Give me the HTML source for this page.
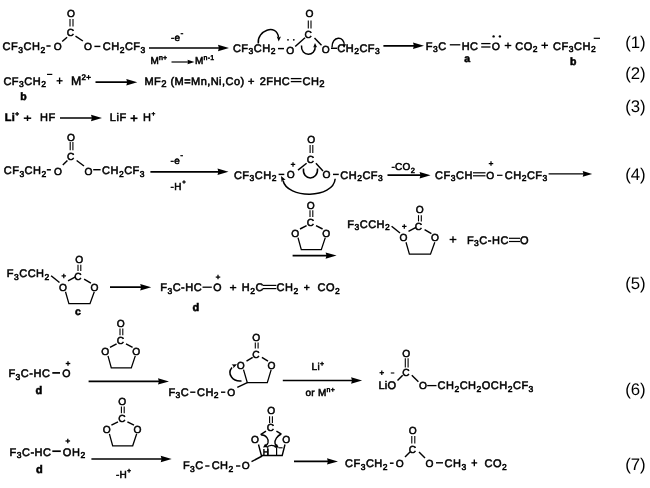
<!DOCTYPE html>
<html><head><meta charset="utf-8"><style>
html,body{margin:0;padding:0;background:#fff;width:650px;height:488px;overflow:hidden}
svg{display:block;filter:grayscale(1) blur(0.35px)}
text{font-family:"Liberation Sans", sans-serif;text-rendering:geometricPrecision;fill:#000;stroke:#000;stroke-width:0.55px}
line,path{stroke:#000;stroke-linecap:butt;fill:none}
polygon,circle{fill:#000;stroke:none}
</style></head><body>
<svg width="650" height="488" viewBox="0 0 650 488">
<text x="2.60" y="50.2" font-size="11.0" letter-spacing="0.5"><tspan>CF</tspan><tspan dy="2.64" font-size="8.5">3</tspan><tspan dy="-2.64">CH</tspan><tspan dy="2.64" font-size="8.5">2</tspan></text>
<line x1="46.40" y1="46.00" x2="50.60" y2="46.00" stroke-width="1.5"/>
<text x="53.74" y="50.0" font-size="10.2" letter-spacing="0.5"><tspan>O</tspan></text>
<line x1="62.20" y1="41.50" x2="67.10" y2="37.20" stroke-width="1.45"/>
<text x="66.64" y="36.3" font-size="10.2" letter-spacing="0.5"><tspan>C</tspan></text>
<line x1="70.00" y1="19.00" x2="70.00" y2="26.50" stroke-width="1.1"/>
<line x1="73.00" y1="19.00" x2="73.00" y2="26.50" stroke-width="1.1"/>
<text x="66.94" y="16.9" font-size="10.2" letter-spacing="0.5"><tspan>O</tspan></text>
<line x1="75.50" y1="36.10" x2="82.90" y2="41.00" stroke-width="1.45"/>
<text x="83.94" y="50.0" font-size="10.2" letter-spacing="0.5"><tspan>O</tspan></text>
<line x1="94.40" y1="46.40" x2="100.40" y2="46.40" stroke-width="1.45"/>
<text x="102.80" y="50.4" font-size="11.0" letter-spacing="0.5"><tspan>CH</tspan><tspan dy="2.64" font-size="8.5">2</tspan><tspan dy="-2.64">CF</tspan><tspan dy="2.64" font-size="8.5">3</tspan></text>
<line x1="149.00" y1="48.00" x2="221.30" y2="48.00" stroke-width="1.7"/>
<polygon points="229.00,48.00 218.00,51.20 218.88,48.00 218.00,44.80"/>
<text x="170.90" y="41.2" font-size="10" letter-spacing="0.4"><tspan>-e</tspan><tspan dy="-5.20" font-size="8.5">-</tspan></text>
<text x="150.45" y="64.0" font-size="10" letter-spacing="0.2"><tspan>M</tspan><tspan dy="-4.00" font-size="7">n+</tspan></text>
<line x1="171.50" y1="62.00" x2="189.60" y2="62.00" stroke-width="1.2"/>
<polygon points="194.50,62.00 187.50,64.30 188.06,62.00 187.50,59.70"/>
<text x="195.05" y="64.0" font-size="10" letter-spacing="0.2"><tspan>M</tspan><tspan dy="-4.00" font-size="7">n-1</tspan></text>
<text x="232.91" y="51.5" font-size="11.0" letter-spacing="0.5"><tspan>CF</tspan><tspan dy="2.64" font-size="8.5">3</tspan><tspan dy="-2.64">CH</tspan><tspan dy="2.64" font-size="8.5">2</tspan></text>
<line x1="278.00" y1="48.60" x2="284.00" y2="48.60" stroke-width="1.45"/>
<text x="286.24" y="54.0" font-size="10.2" letter-spacing="0.5"><tspan>O</tspan></text>
<circle cx="288.0" cy="39.8" r="0.9"/>
<circle cx="293.8" cy="39.8" r="0.9"/>
<line x1="295.20" y1="46.50" x2="305.00" y2="37.80" stroke-width="1.45"/>
<text x="304.44" y="37.7" font-size="10.2" letter-spacing="0.5"><tspan>C</tspan></text>
<line x1="308.30" y1="20.50" x2="308.30" y2="28.50" stroke-width="1.1"/>
<line x1="311.00" y1="20.50" x2="311.00" y2="28.50" stroke-width="1.1"/>
<text x="305.44" y="17.0" font-size="10.2" letter-spacing="0.5"><tspan>O</tspan></text>
<line x1="314.50" y1="38.00" x2="321.50" y2="45.30" stroke-width="1.45"/>
<text x="321.84" y="53.1" font-size="10.2" letter-spacing="0.5"><tspan>O</tspan></text>
<line x1="331.00" y1="48.30" x2="337.00" y2="48.30" stroke-width="1.45"/>
<text x="337.31" y="51.5" font-size="11.0" letter-spacing="0.5"><tspan>CH</tspan><tspan dy="2.64" font-size="8.5">2</tspan><tspan dy="-2.64">CF</tspan><tspan dy="2.64" font-size="8.5">3</tspan></text>
<path d="M258.3,43.5 C256.5,31 276.5,22.5 278.6,37.5" stroke-width="1.5" fill="none"/>
<polygon points="278.70,41.50 276.78,36.43 278.84,37.50 280.97,36.58"/>
<path d="M301.5,45.5 C300.5,57 316,57 315.2,46" stroke-width="1.5" fill="none"/>
<polygon points="315.00,43.00 317.16,47.43 315.13,46.60 313.16,47.57"/>
<path d="M332.0,47.5 C331.5,35.5 345,35.5 344.2,45.5" stroke-width="1.4" fill="none"/>
<polygon points="344.00,48.00 342.47,43.65 344.29,44.65 346.26,43.98"/>
<line x1="383.40" y1="45.80" x2="416.30" y2="45.80" stroke-width="1.7"/>
<polygon points="424.00,45.80 413.00,49.00 413.88,45.80 413.00,42.60"/>
<text x="425.68" y="49.8" font-size="11.0" letter-spacing="0.5"><tspan>F</tspan><tspan dy="2.64" font-size="8.5">3</tspan><tspan dy="-2.64">C</tspan></text>
<line x1="449.80" y1="44.80" x2="460.30" y2="44.80" stroke-width="1.3"/>
<text x="461.68" y="49.8" font-size="11.0" letter-spacing="0.5"><tspan>HC</tspan></text>
<line x1="481.20" y1="43.60" x2="490.50" y2="43.60" stroke-width="1.3"/>
<line x1="481.20" y1="47.00" x2="490.50" y2="47.00" stroke-width="1.3"/>
<text x="491.83" y="50.2" font-size="10.5" letter-spacing="0.5"><tspan>O</tspan></text>
<circle cx="493.6" cy="36.4" r="1.2"/>
<circle cx="499.9" cy="36.4" r="1.2"/>
<line x1="504.70" y1="45.50" x2="511.30" y2="45.50" stroke-width="1.35"/>
<line x1="508.00" y1="42.50" x2="508.00" y2="48.50" stroke-width="1.35"/>
<text x="515.21" y="49.8" font-size="11.0" letter-spacing="0.5"><tspan>CO</tspan><tspan dy="2.64" font-size="8.5">2</tspan></text>
<line x1="541.40" y1="45.30" x2="548.00" y2="45.30" stroke-width="1.35"/>
<line x1="544.70" y1="42.20" x2="544.70" y2="48.40" stroke-width="1.35"/>
<text x="553.11" y="49.8" font-size="11.0" letter-spacing="0.5"><tspan>CF</tspan><tspan dy="2.64" font-size="8.5">3</tspan><tspan dy="-2.64">CH</tspan><tspan dy="2.64" font-size="8.5">2</tspan></text>
<line x1="593.70" y1="38.30" x2="600.00" y2="38.30" stroke-width="1.2"/>
<text x="464.18" y="62.2" font-size="10.5" font-weight="bold"><tspan>a</tspan></text>
<text x="569.92" y="64.5" font-size="10.5" font-weight="bold"><tspan>b</tspan></text>
<text x="625.18" y="47.5" font-size="16.8" style="stroke-width:0px"><tspan>(1)</tspan></text>
<text x="3.40" y="84.5" font-size="11.0" letter-spacing="0.5"><tspan>CF</tspan><tspan dy="2.64" font-size="8.5">3</tspan><tspan dy="-2.64">CH</tspan><tspan dy="2.64" font-size="8.5">2</tspan></text>
<line x1="47.00" y1="74.40" x2="52.30" y2="74.40" stroke-width="1.2"/>
<line x1="56.60" y1="80.80" x2="62.60" y2="80.80" stroke-width="1.35"/>
<line x1="59.60" y1="77.55" x2="59.60" y2="84.05" stroke-width="1.35"/>
<text x="70.98" y="85.4" font-size="12.3" letter-spacing="0.3"><tspan>M</tspan><tspan dy="-5.60" font-size="8">2+</tspan></text>
<line x1="95.50" y1="82.20" x2="129.60" y2="82.20" stroke-width="1.7"/>
<polygon points="137.30,82.20 126.30,85.40 127.18,82.20 126.30,79.00"/>
<text x="144.38" y="85.0" font-size="11.0" letter-spacing="0.45"><tspan>MF</tspan><tspan dy="2.20" font-size="9.5">2</tspan><tspan dy="-2.20"> (M=Mn,Ni,Co) +</tspan></text>
<text x="259.67" y="85.0" font-size="11.0" letter-spacing="0.45"><tspan>2FHC</tspan></text>
<line x1="290.80" y1="78.60" x2="301.50" y2="78.60" stroke-width="1.3"/>
<line x1="290.80" y1="81.60" x2="301.50" y2="81.60" stroke-width="1.3"/>
<text x="302.50" y="85.0" font-size="11.0" letter-spacing="0.45"><tspan>CH</tspan><tspan dy="2.20" font-size="9.5">2</tspan></text>
<text x="20.32" y="99.5" font-size="10.5" font-weight="bold"><tspan>b</tspan></text>
<text x="625.18" y="79.3" font-size="16.8" style="stroke-width:0px"><tspan>(2)</tspan></text>
<text x="4.67" y="120.8" font-size="11.0" font-weight="bold" letter-spacing="0.4"><tspan>Li</tspan><tspan dy="-5.00" font-size="6.5">+</tspan></text>
<line x1="23.80" y1="118.20" x2="31.20" y2="118.20" stroke-width="1.5"/>
<line x1="27.50" y1="115.40" x2="27.50" y2="121.00" stroke-width="1.5"/>
<text x="39.88" y="120.8" font-size="11.0" letter-spacing="0.6"><tspan>HF</tspan></text>
<line x1="60.00" y1="118.00" x2="94.30" y2="118.00" stroke-width="1.7"/>
<polygon points="102.00,118.00 91.00,121.20 91.88,118.00 91.00,114.80"/>
<text x="109.77" y="121.2" font-size="11.0" letter-spacing="0.6"><tspan>LiF</tspan></text>
<line x1="130.50" y1="118.30" x2="137.50" y2="118.30" stroke-width="1.6"/>
<line x1="134.00" y1="115.00" x2="134.00" y2="121.60" stroke-width="1.6"/>
<text x="143.08" y="121.2" font-size="11.0" letter-spacing="0.5"><tspan>H</tspan><tspan dy="-5.60" font-size="6.5">+</tspan></text>
<text x="625.18" y="111.7" font-size="16.8" style="stroke-width:0px"><tspan>(3)</tspan></text>
<text x="3.71" y="174.1" font-size="11.0" letter-spacing="0.5"><tspan>CF</tspan><tspan dy="2.64" font-size="8.5">3</tspan><tspan dy="-2.64">CH</tspan><tspan dy="2.64" font-size="8.5">2</tspan></text>
<line x1="46.80" y1="169.80" x2="50.90" y2="169.80" stroke-width="1.5"/>
<text x="54.04" y="174.5" font-size="10.2" letter-spacing="0.5"><tspan>O</tspan></text>
<line x1="62.80" y1="165.00" x2="67.40" y2="160.50" stroke-width="1.45"/>
<text x="66.94" y="160.2" font-size="10.2" letter-spacing="0.5"><tspan>C</tspan></text>
<line x1="70.20" y1="142.00" x2="70.20" y2="150.30" stroke-width="1.1"/>
<line x1="72.90" y1="142.00" x2="72.90" y2="150.30" stroke-width="1.1"/>
<text x="66.94" y="140.7" font-size="10.2" letter-spacing="0.5"><tspan>O</tspan></text>
<line x1="76.60" y1="160.50" x2="84.00" y2="166.00" stroke-width="1.45"/>
<text x="84.54" y="174.5" font-size="10.2" letter-spacing="0.5"><tspan>O</tspan></text>
<line x1="93.20" y1="169.70" x2="100.60" y2="169.70" stroke-width="1.45"/>
<text x="102.00" y="174.4" font-size="11.0" letter-spacing="0.5"><tspan>CH</tspan><tspan dy="2.64" font-size="8.5">2</tspan><tspan dy="-2.64">CF</tspan><tspan dy="2.64" font-size="8.5">3</tspan></text>
<line x1="150.40" y1="171.80" x2="220.80" y2="171.80" stroke-width="1.7"/>
<polygon points="228.50,171.80 217.50,175.00 218.38,171.80 217.50,168.60"/>
<text x="170.40" y="164.4" font-size="10" letter-spacing="0.5"><tspan>-e</tspan><tspan dy="-6.00" font-size="8.5">-</tspan></text>
<text x="170.40" y="190.2" font-size="10" letter-spacing="0.6"><tspan>-H</tspan><tspan dy="-6.50" font-size="6">+</tspan></text>
<text x="233.91" y="178.5" font-size="11.0" letter-spacing="0.5"><tspan>CF</tspan><tspan dy="2.64" font-size="8.5">3</tspan><tspan dy="-2.64">CH</tspan><tspan dy="2.64" font-size="8.5">2</tspan></text>
<line x1="278.60" y1="174.40" x2="284.30" y2="174.40" stroke-width="1.45"/>
<text x="286.74" y="178.4" font-size="10.2" letter-spacing="0.5"><tspan>O</tspan></text>
<line x1="290.75" y1="164.40" x2="295.25" y2="164.40" stroke-width="1.25"/>
<line x1="293.00" y1="162.15" x2="293.00" y2="166.65" stroke-width="1.25"/>
<line x1="298.00" y1="170.10" x2="306.60" y2="163.30" stroke-width="1.45"/>
<text x="306.84" y="163.4" font-size="10.2" letter-spacing="0.5"><tspan>C</tspan></text>
<line x1="310.10" y1="145.00" x2="310.10" y2="153.00" stroke-width="1.1"/>
<line x1="312.80" y1="145.00" x2="312.80" y2="153.00" stroke-width="1.1"/>
<text x="307.14" y="143.3" font-size="10.2" letter-spacing="0.5"><tspan>O</tspan></text>
<line x1="315.90" y1="163.30" x2="323.00" y2="170.90" stroke-width="1.45"/>
<text x="322.54" y="178.4" font-size="10.2" letter-spacing="0.5"><tspan>O</tspan></text>
<line x1="333.00" y1="174.40" x2="338.80" y2="174.40" stroke-width="1.45"/>
<text x="340.31" y="178.5" font-size="11.0" letter-spacing="0.5"><tspan>CH</tspan><tspan dy="2.64" font-size="8.5">2</tspan><tspan dy="-2.64">CF</tspan><tspan dy="2.64" font-size="8.5">3</tspan></text>
<path d="M303.5,168.5 C302,181 318.5,181 317.5,168.5" stroke-width="1.5" fill="none"/>
<path d="M335.2,178.8 C333.5,199 287,199 283,180.5" stroke-width="1.5" fill="none"/>
<polygon points="281.00,176.00 285.61,179.78 283.07,179.88 281.55,181.94"/>
<line x1="387.50" y1="175.20" x2="422.90" y2="175.20" stroke-width="1.7"/>
<polygon points="430.60,175.20 419.60,178.40 420.48,175.20 419.60,172.00"/>
<text x="391.40" y="170.2" font-size="10" letter-spacing="0.3"><tspan>-CO</tspan><tspan dy="2.40" font-size="7.5">2</tspan></text>
<text x="435.11" y="178.8" font-size="11.0" letter-spacing="0.5"><tspan>CF</tspan><tspan dy="2.64" font-size="8.5">3</tspan><tspan dy="-2.64">CH</tspan></text>
<line x1="473.00" y1="172.80" x2="485.50" y2="172.80" stroke-width="1.2"/>
<line x1="473.00" y1="175.80" x2="485.50" y2="175.80" stroke-width="1.2"/>
<text x="486.14" y="178.8" font-size="10.2" letter-spacing="0.5"><tspan>O</tspan></text>
<line x1="488.75" y1="163.60" x2="493.25" y2="163.60" stroke-width="1.25"/>
<line x1="491.00" y1="161.35" x2="491.00" y2="165.85" stroke-width="1.25"/>
<line x1="497.00" y1="175.30" x2="502.50" y2="175.30" stroke-width="1.2"/>
<text x="504.81" y="178.7" font-size="11.0" letter-spacing="0.5"><tspan>CH</tspan><tspan dy="2.64" font-size="8.5">2</tspan><tspan dy="-2.64">CF</tspan><tspan dy="2.64" font-size="8.5">3</tspan></text>
<line x1="548.60" y1="173.90" x2="585.55" y2="173.90" stroke-width="1.3"/>
<polygon points="592.20,173.90 582.70,176.70 583.46,173.90 582.70,171.10"/>
<text x="625.18" y="179.5" font-size="16.8" style="stroke-width:0px"><tspan>(4)</tspan></text>
<text x="306.84" y="208.8" font-size="10.2" letter-spacing="0.5"><tspan>O</tspan></text>
<line x1="310.00" y1="210.30" x2="310.00" y2="217.00" stroke-width="1.1"/>
<line x1="312.80" y1="210.30" x2="312.80" y2="217.00" stroke-width="1.1"/>
<text x="306.84" y="226.0" font-size="10.2" letter-spacing="0.5"><tspan>C</tspan></text>
<line x1="306.60" y1="225.60" x2="300.00" y2="229.00" stroke-width="1.45"/>
<line x1="316.00" y1="225.60" x2="322.60" y2="229.00" stroke-width="1.45"/>
<text x="291.24" y="236.7" font-size="10.2" letter-spacing="0.5"><tspan>O</tspan></text>
<text x="322.14" y="236.7" font-size="10.2" letter-spacing="0.5"><tspan>O</tspan></text>
<path d="M298.0,237.6 L301.3,249.6 L321.3,249.6 L325.3,237.6" stroke-width="1.3" fill="none"/>
<line x1="292.60" y1="255.60" x2="328.90" y2="255.60" stroke-width="1.7"/>
<polygon points="336.60,255.60 325.60,258.80 326.48,255.60 325.60,252.40"/>
<text x="347.28" y="227.6" font-size="11.0" letter-spacing="0.5"><tspan>F</tspan><tspan dy="2.64" font-size="8.5">3</tspan><tspan dy="-2.64">CCH</tspan><tspan dy="2.64" font-size="8.5">2</tspan></text>
<line x1="391.60" y1="226.20" x2="400.00" y2="233.00" stroke-width="1.45"/>
<text x="399.54" y="241.2" font-size="10.2" letter-spacing="0.5"><tspan>O</tspan></text>
<line x1="402.05" y1="226.40" x2="406.55" y2="226.40" stroke-width="1.25"/>
<line x1="404.30" y1="224.15" x2="404.30" y2="228.65" stroke-width="1.25"/>
<line x1="408.50" y1="231.30" x2="416.00" y2="227.30" stroke-width="1.45"/>
<text x="414.84" y="230.2" font-size="10.2" letter-spacing="0.5"><tspan>C</tspan></text>
<line x1="418.50" y1="215.20" x2="418.50" y2="221.40" stroke-width="1.1"/>
<line x1="421.30" y1="215.20" x2="421.30" y2="221.40" stroke-width="1.1"/>
<text x="415.74" y="213.2" font-size="10.2" letter-spacing="0.5"><tspan>O</tspan></text>
<line x1="424.60" y1="229.60" x2="431.40" y2="233.60" stroke-width="1.45"/>
<text x="430.94" y="241.2" font-size="10.2" letter-spacing="0.5"><tspan>O</tspan></text>
<path d="M406.0,242.3 L409.4,254.2 L430.5,254.2 L434.8,242.3" stroke-width="1.3" fill="none"/>
<line x1="449.60" y1="239.50" x2="456.40" y2="239.50" stroke-width="1.35"/>
<line x1="453.00" y1="236.30" x2="453.00" y2="242.70" stroke-width="1.35"/>
<text x="466.88" y="243.7" font-size="11.0" letter-spacing="0.5"><tspan>F</tspan><tspan dy="2.64" font-size="8.5">3</tspan><tspan dy="-2.64">C-HC</tspan></text>
<line x1="509.00" y1="238.30" x2="520.00" y2="238.30" stroke-width="1.2"/>
<line x1="509.00" y1="241.50" x2="520.00" y2="241.50" stroke-width="1.2"/>
<text x="520.00" y="243.7" font-size="11.0" letter-spacing="0.5"><tspan>O</tspan></text>
<text x="6.78" y="277.1" font-size="11.0" letter-spacing="0.5"><tspan>F</tspan><tspan dy="2.64" font-size="8.5">3</tspan><tspan dy="-2.64">CCH</tspan><tspan dy="2.64" font-size="8.5">2</tspan></text>
<line x1="51.10" y1="275.70" x2="59.50" y2="282.50" stroke-width="1.45"/>
<text x="59.04" y="290.7" font-size="10.2" letter-spacing="0.5"><tspan>O</tspan></text>
<line x1="61.55" y1="275.90" x2="66.05" y2="275.90" stroke-width="1.25"/>
<line x1="63.80" y1="273.65" x2="63.80" y2="278.15" stroke-width="1.25"/>
<line x1="68.00" y1="280.80" x2="75.50" y2="276.80" stroke-width="1.45"/>
<text x="74.34" y="279.7" font-size="10.2" letter-spacing="0.5"><tspan>C</tspan></text>
<line x1="78.00" y1="264.70" x2="78.00" y2="270.90" stroke-width="1.1"/>
<line x1="80.80" y1="264.70" x2="80.80" y2="270.90" stroke-width="1.1"/>
<text x="75.24" y="262.7" font-size="10.2" letter-spacing="0.5"><tspan>O</tspan></text>
<line x1="84.10" y1="279.10" x2="90.90" y2="283.10" stroke-width="1.45"/>
<text x="90.44" y="290.7" font-size="10.2" letter-spacing="0.5"><tspan>O</tspan></text>
<path d="M65.5,291.8 L68.9,303.7 L90.0,303.7 L94.3,291.8" stroke-width="1.3" fill="none"/>
<text x="74.88" y="315.0" font-size="10.5" font-weight="bold"><tspan>c</tspan></text>
<line x1="110.00" y1="287.20" x2="143.50" y2="287.20" stroke-width="1.7"/>
<polygon points="151.20,287.20 140.20,290.40 141.08,287.20 140.20,284.00"/>
<text x="160.18" y="290.9" font-size="11.0" letter-spacing="0.5"><tspan>F</tspan><tspan dy="2.64" font-size="8.5">3</tspan><tspan dy="-2.64">C-HC</tspan></text>
<line x1="202.50" y1="287.20" x2="211.80" y2="287.20" stroke-width="1.3"/>
<text x="213.32" y="291.0" font-size="10.6" letter-spacing="0.5"><tspan>O</tspan></text>
<line x1="215.75" y1="277.10" x2="220.25" y2="277.10" stroke-width="1.25"/>
<line x1="218.00" y1="274.85" x2="218.00" y2="279.35" stroke-width="1.25"/>
<line x1="229.90" y1="287.60" x2="236.30" y2="287.60" stroke-width="1.35"/>
<line x1="233.10" y1="284.80" x2="233.10" y2="290.40" stroke-width="1.35"/>
<text x="241.78" y="291.2" font-size="11.0" letter-spacing="0.5"><tspan>H</tspan><tspan dy="2.64" font-size="8.5">2</tspan><tspan dy="-2.64">C</tspan></text>
<line x1="263.00" y1="285.40" x2="276.40" y2="285.40" stroke-width="1.2"/>
<line x1="263.00" y1="288.60" x2="276.40" y2="288.60" stroke-width="1.2"/>
<text x="276.50" y="291.2" font-size="11.0" letter-spacing="0.5"><tspan>CH</tspan><tspan dy="2.64" font-size="8.5">2</tspan></text>
<line x1="304.00" y1="287.50" x2="309.60" y2="287.50" stroke-width="1.35"/>
<line x1="306.80" y1="284.70" x2="306.80" y2="290.30" stroke-width="1.35"/>
<text x="317.50" y="291.2" font-size="11.0" letter-spacing="0.5"><tspan>CO</tspan><tspan dy="2.64" font-size="8.5">2</tspan></text>
<text x="192.62" y="310.5" font-size="11" font-weight="bold"><tspan>d</tspan></text>
<text x="625.18" y="289.3" font-size="16.8" style="stroke-width:0px"><tspan>(5)</tspan></text>
<text x="8.38" y="377.0" font-size="11.0" letter-spacing="0.5"><tspan>F</tspan><tspan dy="2.64" font-size="8.5">3</tspan><tspan dy="-2.64">C-HC</tspan></text>
<line x1="52.30" y1="372.90" x2="60.00" y2="372.90" stroke-width="1.7"/>
<text x="62.32" y="377.4" font-size="10.6" letter-spacing="0.5"><tspan>O</tspan></text>
<line x1="65.70" y1="363.50" x2="70.30" y2="363.50" stroke-width="1.3"/>
<line x1="68.00" y1="361.20" x2="68.00" y2="365.80" stroke-width="1.3"/>
<text x="35.62" y="394.2" font-size="11" font-weight="bold"><tspan>d</tspan></text>
<text x="116.84" y="327.1" font-size="10.2" letter-spacing="0.5"><tspan>O</tspan></text>
<line x1="120.00" y1="328.60" x2="120.00" y2="335.30" stroke-width="1.1"/>
<line x1="122.80" y1="328.60" x2="122.80" y2="335.30" stroke-width="1.1"/>
<text x="116.84" y="344.3" font-size="10.2" letter-spacing="0.5"><tspan>C</tspan></text>
<line x1="116.60" y1="343.90" x2="110.00" y2="347.30" stroke-width="1.45"/>
<line x1="126.00" y1="343.90" x2="132.60" y2="347.30" stroke-width="1.45"/>
<text x="101.24" y="355.0" font-size="10.2" letter-spacing="0.5"><tspan>O</tspan></text>
<text x="132.14" y="355.0" font-size="10.2" letter-spacing="0.5"><tspan>O</tspan></text>
<path d="M108.0,355.9 L111.3,367.9 L131.3,367.9 L135.3,355.9" stroke-width="1.3" fill="none"/>
<line x1="88.60" y1="381.40" x2="161.30" y2="381.40" stroke-width="1.7"/>
<polygon points="169.00,381.40 158.00,384.60 158.88,381.40 158.00,378.20"/>
<text x="168.48" y="395.7" font-size="11.0" letter-spacing="0.4"><tspan>F</tspan><tspan dy="2.64" font-size="8.5">3</tspan><tspan dy="-2.64">C</tspan></text>
<line x1="190.20" y1="392.20" x2="195.40" y2="392.20" stroke-width="1.4"/>
<text x="197.10" y="395.7" font-size="11.0" letter-spacing="0.4"><tspan>CH</tspan><tspan dy="2.64" font-size="8.5">2</tspan></text>
<line x1="221.00" y1="392.20" x2="225.30" y2="392.20" stroke-width="1.4"/>
<text x="227.34" y="395.7" font-size="10.2" letter-spacing="0.5"><tspan>O</tspan></text>
<line x1="237.30" y1="387.30" x2="247.30" y2="382.70" stroke-width="1.45"/>
<text x="252.24" y="340.9" font-size="10.2" letter-spacing="0.5"><tspan>O</tspan></text>
<line x1="255.30" y1="342.50" x2="255.30" y2="348.50" stroke-width="1.1"/>
<line x1="258.10" y1="342.50" x2="258.10" y2="348.50" stroke-width="1.1"/>
<text x="252.24" y="357.7" font-size="10.2" letter-spacing="0.5"><tspan>C</tspan></text>
<line x1="252.70" y1="357.30" x2="246.50" y2="361.20" stroke-width="1.45"/>
<line x1="261.90" y1="357.30" x2="268.00" y2="361.20" stroke-width="1.45"/>
<text x="236.84" y="368.5" font-size="10.2" letter-spacing="0.5"><tspan>O</tspan></text>
<text x="267.54" y="368.5" font-size="10.2" letter-spacing="0.5"><tspan>O</tspan></text>
<path d="M243.5,369.6 L247.3,382.7 L267.3,382.7 L271.2,369.6" stroke-width="1.3" fill="none"/>
<path d="M241.5,381.0 C233,382 226.5,374 232,367.5" stroke-width="1.5" fill="none"/>
<polygon points="237.00,364.20 233.36,368.22 233.37,365.89 231.58,364.41"/>
<line x1="282.80" y1="380.50" x2="354.40" y2="380.50" stroke-width="1.7"/>
<polygon points="362.10,380.50 351.10,383.70 351.98,380.50 351.10,377.30"/>
<text x="311.55" y="370.0" font-size="10" letter-spacing="0.3"><tspan>Li</tspan><tspan dy="-4.00" font-size="7">+</tspan></text>
<text x="305.40" y="396.0" font-size="10" letter-spacing="0.3"><tspan>or M</tspan><tspan dy="-4.00" font-size="7">n+</tspan></text>
<text x="378.38" y="389.4" font-size="11.0" letter-spacing="0.3"><tspan>LiO</tspan></text>
<line x1="379.55" y1="372.70" x2="384.05" y2="372.70" stroke-width="1.25"/>
<line x1="381.80" y1="370.45" x2="381.80" y2="374.95" stroke-width="1.25"/>
<line x1="390.80" y1="373.00" x2="394.30" y2="373.00" stroke-width="1.1"/>
<line x1="397.50" y1="380.50" x2="402.70" y2="375.30" stroke-width="1.45"/>
<text x="402.24" y="376.3" font-size="10.2" letter-spacing="0.5"><tspan>C</tspan></text>
<line x1="405.30" y1="358.30" x2="405.30" y2="367.50" stroke-width="1.1"/>
<line x1="408.10" y1="358.30" x2="408.10" y2="367.50" stroke-width="1.1"/>
<text x="402.24" y="356.7" font-size="10.2" letter-spacing="0.5"><tspan>O</tspan></text>
<line x1="411.80" y1="375.30" x2="418.40" y2="381.80" stroke-width="1.45"/>
<text x="419.04" y="389.4" font-size="10.2" letter-spacing="0.5"><tspan>O</tspan></text>
<line x1="427.20" y1="385.60" x2="436.50" y2="385.60" stroke-width="1.3"/>
<text x="437.50" y="389.4" font-size="11.0" letter-spacing="0.5"><tspan>CH</tspan><tspan dy="2.64" font-size="8.5">2</tspan><tspan dy="-2.64">CH</tspan><tspan dy="2.64" font-size="8.5">2</tspan><tspan dy="-2.64">OCH</tspan><tspan dy="2.64" font-size="8.5">2</tspan><tspan dy="-2.64">CF</tspan><tspan dy="2.64" font-size="8.5">3</tspan></text>
<text x="625.18" y="394.5" font-size="16.8" style="stroke-width:0px"><tspan>(6)</tspan></text>
<text x="9.48" y="455.6" font-size="11.0" letter-spacing="0.5"><tspan>F</tspan><tspan dy="2.64" font-size="8.5">3</tspan><tspan dy="-2.64">C-HC</tspan></text>
<line x1="52.30" y1="451.20" x2="60.80" y2="451.20" stroke-width="1.7"/>
<text x="62.80" y="455.6" font-size="11.0" letter-spacing="0.6"><tspan>OH</tspan><tspan dy="2.64" font-size="8.5">2</tspan></text>
<line x1="65.50" y1="441.00" x2="70.10" y2="441.00" stroke-width="1.3"/>
<line x1="67.80" y1="438.70" x2="67.80" y2="443.30" stroke-width="1.3"/>
<text x="36.02" y="472.6" font-size="11" font-weight="bold"><tspan>d</tspan></text>
<text x="118.24" y="405.0" font-size="10.2" letter-spacing="0.5"><tspan>O</tspan></text>
<line x1="121.40" y1="406.50" x2="121.40" y2="413.20" stroke-width="1.1"/>
<line x1="124.20" y1="406.50" x2="124.20" y2="413.20" stroke-width="1.1"/>
<text x="118.24" y="422.2" font-size="10.2" letter-spacing="0.5"><tspan>C</tspan></text>
<line x1="118.00" y1="421.80" x2="111.40" y2="425.20" stroke-width="1.45"/>
<line x1="127.40" y1="421.80" x2="134.00" y2="425.20" stroke-width="1.45"/>
<text x="102.64" y="432.9" font-size="10.2" letter-spacing="0.5"><tspan>O</tspan></text>
<text x="133.54" y="432.9" font-size="10.2" letter-spacing="0.5"><tspan>O</tspan></text>
<path d="M109.4,433.8 L112.7,445.8 L132.7,445.8 L136.7,433.8" stroke-width="1.3" fill="none"/>
<line x1="91.40" y1="459.00" x2="164.00" y2="459.00" stroke-width="1.7"/>
<polygon points="171.70,459.00 160.70,462.20 161.58,459.00 160.70,455.80"/>
<text x="115.90" y="477.8" font-size="10" letter-spacing="0.3"><tspan>-H</tspan><tspan dy="-4.80" font-size="7">+</tspan></text>
<text x="182.88" y="469.4" font-size="11.0" letter-spacing="0.4"><tspan>F</tspan><tspan dy="2.64" font-size="8.5">3</tspan><tspan dy="-2.64">C</tspan></text>
<line x1="205.20" y1="466.00" x2="209.50" y2="466.00" stroke-width="1.4"/>
<text x="211.70" y="469.4" font-size="11.0" letter-spacing="0.4"><tspan>CH</tspan><tspan dy="2.64" font-size="8.5">2</tspan></text>
<line x1="236.00" y1="466.00" x2="240.30" y2="466.00" stroke-width="1.4"/>
<text x="241.74" y="469.4" font-size="10.2" letter-spacing="0.5"><tspan>O</tspan></text>
<line x1="251.50" y1="461.70" x2="262.20" y2="456.00" stroke-width="1.45"/>
<text x="267.14" y="414.2" font-size="10.2" letter-spacing="0.5"><tspan>O</tspan></text>
<line x1="269.60" y1="416.30" x2="269.60" y2="423.00" stroke-width="1.1"/>
<line x1="272.40" y1="416.30" x2="272.40" y2="423.00" stroke-width="1.1"/>
<text x="266.84" y="430.7" font-size="10.2" letter-spacing="0.5"><tspan>C</tspan></text>
<line x1="266.00" y1="431.20" x2="260.60" y2="434.60" stroke-width="1.45"/>
<line x1="276.40" y1="431.20" x2="281.40" y2="434.20" stroke-width="1.45"/>
<text x="251.04" y="442.9" font-size="10.2" letter-spacing="0.5"><tspan>O</tspan></text>
<text x="282.34" y="442.9" font-size="10.2" letter-spacing="0.5"><tspan>O</tspan></text>
<path d="M258.5,444.5 L261.4,455.5 L282.2,455.5 L285.0,444.5" stroke-width="1.4" fill="none"/>
<text x="262.76" y="455.0" font-size="8.5"><tspan>H</tspan></text>
<path d="M260.9,434.8 C266.5,435 269,439.5 268,442.8 C267.4,444.6 266.4,445.4 265.6,445.8" stroke-width="1.4" fill="none"/>
<polygon points="263.00,447.60 265.13,443.67 266.28,445.31 267.42,446.94"/>
<path d="M281.2,434.0 C277,436 274.6,440 275.0,443.2 C275.2,444.6 275.8,445.4 276.4,445.8" stroke-width="1.4" fill="none"/>
<polygon points="278.90,447.80 274.48,447.14 275.62,445.51 276.77,443.87"/>
<path d="M266.8,447.6 C268.4,444.6 274.4,444.6 276.0,447.4" stroke-width="1.2" fill="none"/>
<line x1="267.80" y1="447.50" x2="267.80" y2="455.50" stroke-width="1.2"/>
<line x1="276.60" y1="447.20" x2="276.60" y2="455.50" stroke-width="1.2"/>
<line x1="278.60" y1="447.80" x2="282.60" y2="447.80" stroke-width="1.1"/>
<line x1="294.00" y1="461.40" x2="330.30" y2="461.40" stroke-width="1.7"/>
<polygon points="338.00,461.40 327.00,464.60 327.88,461.40 327.00,458.20"/>
<text x="345.00" y="467.2" font-size="11.0" letter-spacing="0.5"><tspan>CF</tspan><tspan dy="2.64" font-size="8.5">3</tspan><tspan dy="-2.64">CH</tspan><tspan dy="2.64" font-size="8.5">2</tspan></text>
<line x1="389.90" y1="463.20" x2="393.60" y2="463.20" stroke-width="1.5"/>
<text x="395.84" y="467.2" font-size="10.2" letter-spacing="0.5"><tspan>O</tspan></text>
<line x1="405.00" y1="457.00" x2="410.00" y2="452.00" stroke-width="1.45"/>
<text x="408.84" y="452.7" font-size="10.2" letter-spacing="0.5"><tspan>C</tspan></text>
<line x1="411.80" y1="436.00" x2="411.80" y2="443.50" stroke-width="1.1"/>
<line x1="414.80" y1="436.00" x2="414.80" y2="443.50" stroke-width="1.1"/>
<text x="408.84" y="433.7" font-size="10.2" letter-spacing="0.5"><tspan>O</tspan></text>
<line x1="419.00" y1="452.00" x2="425.00" y2="458.00" stroke-width="1.45"/>
<text x="425.54" y="467.1" font-size="10.2" letter-spacing="0.5"><tspan>O</tspan></text>
<line x1="436.00" y1="462.80" x2="443.00" y2="462.80" stroke-width="1.4"/>
<text x="444.50" y="467.2" font-size="11.0" letter-spacing="0.5"><tspan>CH</tspan><tspan dy="2.64" font-size="8.5">3</tspan></text>
<line x1="471.40" y1="462.90" x2="477.20" y2="462.90" stroke-width="1.35"/>
<line x1="474.30" y1="459.50" x2="474.30" y2="466.30" stroke-width="1.35"/>
<text x="484.50" y="467.2" font-size="11.0" letter-spacing="0.5"><tspan>CO</tspan><tspan dy="2.64" font-size="8.5">2</tspan></text>
<text x="625.18" y="470.3" font-size="16.8" style="stroke-width:0px"><tspan>(7)</tspan></text>
</svg>
</body></html>
